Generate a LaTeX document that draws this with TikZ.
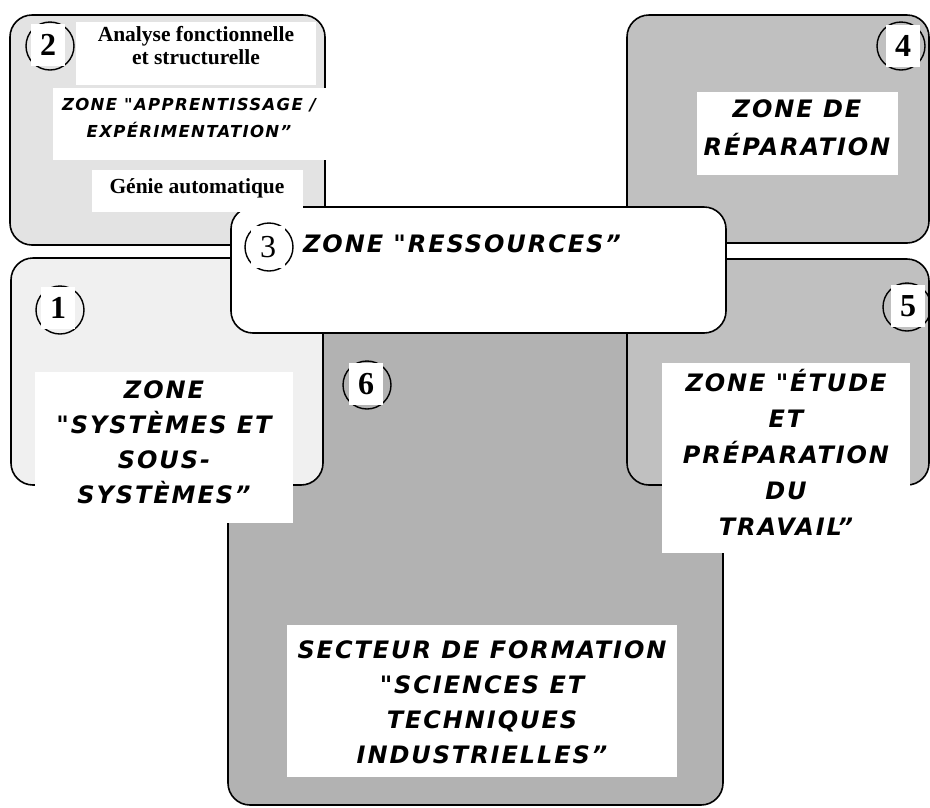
\documentclass[tikz,border=0pt]{standalone}
\usepackage{fontspec}
\setmainfont{Liberation Serif}
\newfontfamily\zonefont[LetterSpace=8]{DejaVu Sans}
\usetikzlibrary{positioning}
\definecolor{zoneone}{HTML}{F0F0F0}
\definecolor{zonetwo}{HTML}{E3E3E3}
\definecolor{zonefour}{HTML}{C0C0C0}
\definecolor{zonesix}{HTML}{B2B2B2}
\begin{document}
\begin{tikzpicture}[x=1pt,y=-1pt,
  panel/.style={draw=black,line width=1.6pt,rounded corners=22pt},
  serifbf/.style={font=\bfseries\fontsize{21.5}{23}\selectfont,align=center},
  zonebig/.style={font=\zonefont\bfseries\itshape\fontsize{24}{#1}\selectfont,align=center},
  zonebig/.default=35,
  zonesmall/.style={font=\zonefont\bfseries\itshape\fontsize{16.5}{27}\selectfont,align=center},
  ring/.style={circle,draw=black,line width=1.4pt,minimum size=48pt,inner sep=0pt},
  digit/.style={fill=white,inner sep=0pt,minimum width=34pt,minimum height=42pt,
    font=\bfseries\fontsize{32}{32}\selectfont}]
  \useasboundingbox (0,0) rectangle (930,807);
  \draw[panel,fill=zonesix] (228,290) rectangle (723,805);
  \draw[panel,fill=zonefour] (627,15) rectangle (929,243);
  \draw[panel,fill=zonefour] (627,259) rectangle (929,485);
  \draw[panel,fill=zonetwo] (10,15) rectangle (325,245);
  \draw[panel,fill=zoneone] (11,258) rectangle (323,485);
  \draw[panel,fill=white] (231,207) rectangle (726,333);
  \fill[white] (76,22) rectangle (316,85);
  \fill[white] (53,88) rectangle (327,160);
  \fill[white] (92,170) rectangle (303,212);
  \fill[white] (697,92) rectangle (898,175);
  \fill[white] (35,372) rectangle (293,523);
  \fill[white] (662,363) rectangle (910,553);
  \fill[white] (287,625) rectangle (677,777);
  \node[serifbf] (analyse) at (196,46) {Analyse fonctionnelle\\et structurelle};
  \node[zonesmall] (apprent) at (189,118) {ZONE "APPRENTISSAGE /\\EXPÉRIMENTATION”};
  \node[serifbf] (genie) at (197,188) {Génie automatique};
  \node[zonebig=38] (repar) at (797,128) {ZONE DE\\RÉPARATION};
  \node[zonebig] (ressour) at (462,244) {ZONE "RESSOURCES”};
  \node[zonebig] (systemes) at (164,442) {ZONE\\"SYSTÈMES ET\\SOUS-\\SYSTÈMES”};
  \node[zonebig=36] (etude) at (786,452) {ZONE "ÉTUDE\\ET\\PRÉPARATION\\DU\\TRAVAIL”};
  \node[zonebig] (secteur) at (482,702) {SECTEUR DE FORMATION\\"SCIENCES ET\\TECHNIQUES\\INDUSTRIELLES”};
  \node[ring] (r1) at (60,310) {};
  \node[digit] (d1) at (58,308) {1};
  \node[ring] (r2) at (50,46) {};
  \node[digit] (d2) at (48,45) {2};
  \node[ring] (r3) at (269,247) {};
  \node[digit,font=\fontsize{32}{32}\selectfont] (d3) at (268,247) {3};
  \node[ring] (r4) at (901,46) {};
  \node[digit] (d4) at (903,46) {4};
  \node[ring] (r5) at (907,307) {};
  \node[digit] (d5) at (908,306) {5};
  \node[ring] (r6) at (367,385) {};
  \node[digit] (d6) at (366,384) {6};
\end{tikzpicture}
\end{document}
